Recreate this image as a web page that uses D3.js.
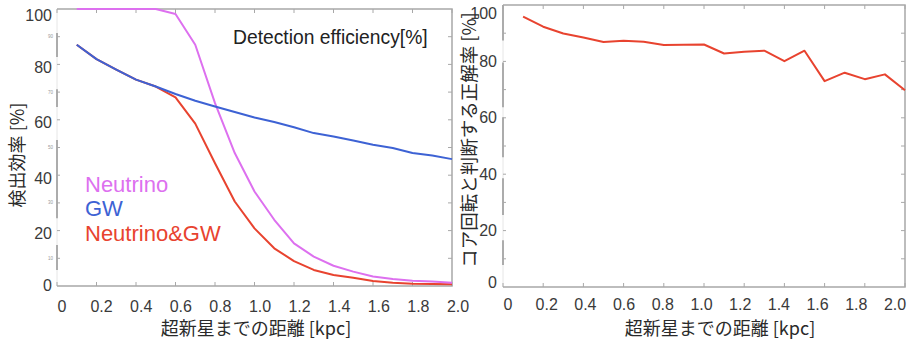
<!DOCTYPE html>
<html>
<head>
<meta charset="utf-8">
<script src="https://cdn.jsdelivr.net/npm/d3@7"></script>
<style>
  html, body { margin: 0; padding: 0; background: #fff; }
  svg { display: block; }
  text { font-family: "Liberation Sans", Arial, sans-serif; }
  .jp { font-family: "Noto Sans CJK JP", "Noto Sans", sans-serif; }
</style>
</head>
<body>
<svg id="chart" width="910" height="339"></svg>
<script>
// ---- data ----
const distance = [0.1, 0.2, 0.3, 0.4, 0.5, 0.6, 0.7, 0.8, 0.9, 1.0,
                  1.1, 1.2, 1.3, 1.4, 1.5, 1.6, 1.7, 1.8, 1.9, 2.0];

// detection efficiency [%]
const neutrinoEff = [100, 100, 100, 100, 100, 98.2, 87.1, 66.0, 48.0, 34.1,
                     23.9, 15.4, 10.6, 7.3, 5.2, 3.4, 2.5, 1.9, 1.6, 1.2];
const gwEff       = [87.1, 81.9, 78.1, 74.5, 72.0, 69.3, 66.9, 64.8, 62.8, 60.8,
                     59.2, 57.3, 55.2, 54.0, 52.5, 51.0, 49.8, 48.0, 47.1, 45.8];
const bothEff     = [87.1, 81.9, 78.1, 74.5, 72.0, 68.1, 58.6, 44.3, 30.5, 20.8,
                     13.6, 9.0, 5.8, 4.0, 3.0, 1.8, 1.2, 0.8, 0.7, 0.6];

// correct-classification rate of core rotation [%]
const rotationRate = [95.9, 92.3, 89.9, 88.5, 86.9, 87.3, 87.0, 85.8, 85.9, 86.0,
                      82.8, 83.4, 83.8, 80.1, 83.8, 73.0, 76.0, 73.7, 75.4, 69.8];

const xTicks = [0, 0.2, 0.4, 0.6, 0.8, 1.0, 1.2, 1.4, 1.6, 1.8, 2.0];
const xTickLabels = ["0", "0.2", "0.4", "0.6", "0.8", "1.0", "1.2", "1.4", "1.6", "1.8", "2.0"];
const yTicks = [0, 20, 40, 60, 80, 100];
const yMinorTicks = [10, 30, 50, 70, 90];

const legendNames = ["Neutrino", "GW", "Neutrino&GW"];
const colors = { neutrino: "#dd70ef", gw: "#3d62d4", both: "#e8432f" };

const xTitle = "超新星までの距離 [kpc]";
const yTitleLeft = "検出効率 [%]";
const yTitleRight = "コア回転と判断する正解率 [%]";
const panelTitle = "Detection efficiency[%]";

const svg = d3.select("#chart");
const frameColor = "#a8a8a8";
const labelColor = "#3a3a3a";

function drawPanel(cfg) {
  const { x, y, xLab } = cfg;
  const g = svg.append("g");
  const [x0, x1] = x.range();
  const [yb, yt] = y.range();

  // faint full-length left spine, then the darker broken segments over it
  g.append("line").attr("x1", x0).attr("x2", x0).attr("y1", yt).attr("y2", yb)
    .attr("stroke", "#e6e6e6").attr("stroke-width", 1);
  cfg.spineSegments.forEach(([a, b]) => {
    g.append("line").attr("x1", x0).attr("x2", x0).attr("y1", y(a)).attr("y2", y(b))
      .attr("stroke", "#9a9a9a").attr("stroke-width", 1.6);
  });

  // top, right and bottom frame lines
  g.append("path")
    .attr("d", `M${x0},${yt}H${x1}V${yb}H${x0}`)
    .attr("fill", "none").attr("stroke", frameColor).attr("stroke-width", 1.5);

  // inward ticks
  xTicks.forEach(v => {
    g.append("line").attr("x1", x(v)).attr("x2", x(v)).attr("y1", yb).attr("y2", yb - 4)
      .attr("stroke", frameColor);
    g.append("line").attr("x1", x(v)).attr("x2", x(v)).attr("y1", yt).attr("y2", yt + 4)
      .attr("stroke", frameColor);
  });
  d3.range(10, 100, 10).forEach(v => {
    g.append("line").attr("x1", x1).attr("x2", x1 - 4).attr("y1", y(v)).attr("y2", y(v))
      .attr("stroke", frameColor);
    g.append("line").attr("x1", x0).attr("x2", x0 + 3).attr("y1", y(v)).attr("y2", y(v))
      .attr("stroke", frameColor);
  });

  // series
  cfg.series.forEach(s => {
    const line = d3.line().x((d, i) => x(distance[i])).y(d => y(d));
    g.append("path").datum(s.values)
      .attr("d", line)
      .attr("fill", "none")
      .attr("stroke", s.color)
      .attr("stroke-width", 2)
      .attr("stroke-linejoin", "round");
  });

  // tick labels (placed on their own label scale)
  xTicks.forEach((v, i) => {
    g.append("text").attr("x", xLab(v)).attr("y", cfg.xLabelY)
      .attr("text-anchor", "middle").attr("font-size", 16).attr("fill", labelColor)
      .text(xTickLabels[i]);
  });
  yTicks.forEach(v => {
    const py = Math.min(Math.max(y(v) + cfg.yLabelShift, yt + cfg.topInset), yb - cfg.bottomInset);
    g.append("text").attr("x", cfg.yLabelX).attr("y", py).attr("dy", "0.35em")
      .attr("text-anchor", "end").attr("font-size", 16).attr("fill", labelColor)
      .text(v);
  });

  // axis titles
  g.append("text").attr("class", "jp")
    .attr("x", cfg.xTitleX).attr("y", cfg.xTitleY)
    .attr("text-anchor", "middle").attr("font-size", 18).attr("fill", "#2a2a2a")
    .text(xTitle);
  g.append("text").attr("class", "jp")
    .attr("transform", `translate(${cfg.yTitleX},${cfg.yTitleCY}) rotate(-90)`)
    .attr("text-anchor", "middle").attr("dy", "0.35em")
    .attr("font-size", cfg.yTitleSize).attr("fill", "#2a2a2a")
    .text(cfg.yTitle);
  return g;
}

// ---- left panel: detection efficiency ----
const xL = d3.scaleLinear().domain([0, 2]).range([57, 452]);
const yL = d3.scaleLinear().domain([0, 100]).range([286, 9]);
const left = drawPanel({
  x: xL, y: yL,
  xLab: d3.scaleLinear().domain([0, 2]).range([62, 458]),
  spineSegments: [[91.3, 82.7], [71, 64.6], [52.7, 24.5], [14.8, 5.8]],
  series: [
    { values: bothEff, color: colors.both },
    { values: neutrinoEff, color: colors.neutrino },
    { values: gwEff, color: colors.gw }
  ],
  xLabelY: 312,
  yLabelX: 52, yLabelShift: 3, topInset: 6, bottomInset: 1,
  xTitleX: 256, xTitleY: 335,
  yTitleX: 18, yTitleCY: 155, yTitle: yTitleLeft, yTitleSize: 18
});

// tiny minor labels beside the left spine
yMinorTicks.forEach(v => {
  left.append("text").attr("x", 53).attr("y", yL(v)).attr("dy", "0.35em")
    .attr("text-anchor", "end").attr("font-size", 4.5).attr("fill", "#999")
    .text(v);
});

// legend
const legendColors = [colors.neutrino, colors.gw, colors.both];
const legendY = [192, 216, 241];
legendNames.forEach((name, i) => {
  left.append("text").attr("x", 85).attr("y", legendY[i])
    .attr("font-size", 22).attr("fill", legendColors[i])
    .text(name);
});

left.append("text").attr("x", 233).attr("y", 44)
  .attr("font-size", 19.3).attr("fill", "#222")
  .text(panelTitle);

// ---- right panel: rotation classification rate ----
const xR = d3.scaleLinear().domain([0, 2]).range([503, 905]);
const yR = d3.scaleLinear().domain([0, 100]).range([287, 5]);
drawPanel({
  x: xR, y: yR,
  xLab: d3.scaleLinear().domain([0, 2]).range([508, 895]),
  spineSegments: [[100, 87.4], [79.6, 63.7], [60.2, 46], [38.6, 25.5], [16.6, 7.8]],
  series: [{ values: rotationRate, color: colors.both }],
  xLabelY: 310,
  yLabelX: 497, yLabelShift: 0, topInset: 8, bottomInset: 5,
  xTitleX: 720, xTitleY: 335,
  yTitleX: 470, yTitleCY: 140, yTitle: yTitleRight, yTitleSize: 18.5
});
</script>
</body>
</html>
